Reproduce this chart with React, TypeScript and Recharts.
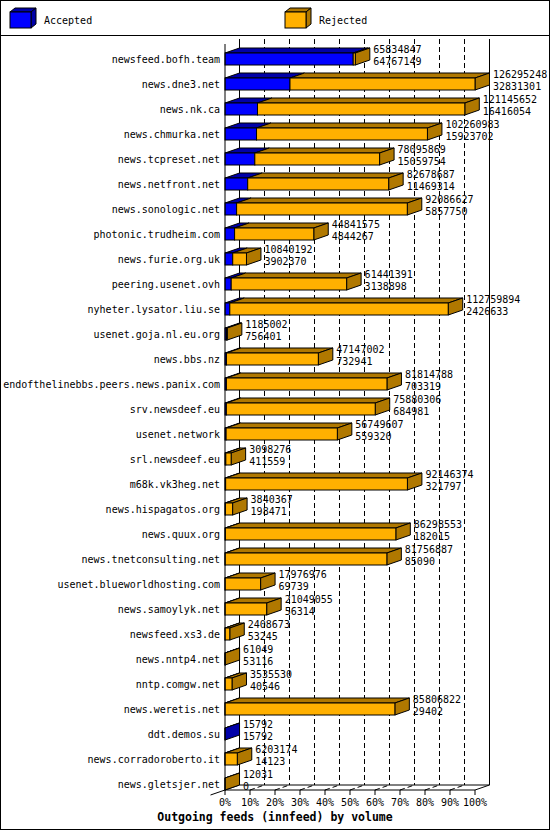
import { BarChart, Bar, XAxis, YAxis, CartesianGrid, Legend } from 'recharts';

const hosts = [
  'newsfeed.bofh.team', 'news.dne3.net', 'news.nk.ca', 'news.chmurka.net', 'news.tcpreset.net',
  'news.netfront.net', 'news.sonologic.net', 'photonic.trudheim.com', 'news.furie.org.uk',
  'peering.usenet.ovh', 'nyheter.lysator.liu.se', 'usenet.goja.nl.eu.org', 'news.bbs.nz',
  'endofthelinebbs.peers.news.panix.com', 'srv.newsdeef.eu', 'usenet.network', 'srl.newsdeef.eu',
  'm68k.vk3heg.net', 'news.hispagatos.org', 'news.quux.org', 'news.tnetconsulting.net',
  'usenet.blueworldhosting.com', 'news.samoylyk.net', 'newsfeed.xs3.de', 'news.nntp4.net',
  'nntp.comgw.net', 'news.weretis.net', 'ddt.demos.su', 'news.corradoroberto.it', 'news.gletsjer.net',
];

// upper number next to each bar (offered) and lower number (accepted)
const offered = [
  65834847, 126295248, 121145652, 102260983, 78095869, 82678687, 92086627, 44841575, 10840192,
  61441391, 112759894, 1185002, 47147002, 81814788, 75880306, 56749607, 3098276, 92146374,
  3840367, 86298553, 81756887, 17976976, 21049055, 2408673, 61049, 3535530, 85806822, 15792,
  6203174, 12031,
];
const accepted = [
  64767149, 32831301, 16416054, 15923702, 15059754, 11469314, 5857750, 4844267, 3902370,
  3138898, 2426633, 756401, 732941, 703319, 684981, 559320, 411559, 321797, 198471, 182015,
  85090, 69739, 56314, 53245, 53116, 40546, 29402, 15792, 14123, 0,
];

const percentTicks = [0, 10, 20, 30, 40, 50, 60, 70, 80, 90, 100];
const seriesNames = ['Accepted', 'Rejected'];

const FRONT = ['#0000ff', '#ffb000'];
const SHADE = ['#0000a8', '#b07800'];
const FONT = "'DejaVu Sans Mono', monospace";
const DX = 14.5;
const DY = 5;

const maxOffered = Math.max(...offered);
const data = hosts.map((host, i) => ({
  host,
  offered: offered[i],
  accepted: accepted[i],
  acceptedPct: (accepted[i] / maxOffered) * 100,
  rejectedPct: ((offered[i] - accepted[i]) / maxOffered) * 100,
}));

function Box3D({ x, y, width, height, front, shade, side }: any) {
  const fy = y + DY;
  const fh = height - DY;
  return (
    <g stroke="#000" strokeWidth={1}>
      <polygon points={`${x},${fy} ${x + DX},${y} ${x + width + DX},${y} ${x + width},${fy}`} fill={shade} />
      {side && (
        <polygon
          points={`${x + width},${fy} ${x + width + DX},${y} ${x + width + DX},${y + fh} ${x + width},${fy + fh}`}
          fill={shade}
        />
      )}
      <rect x={x} y={fy} width={width} height={fh} fill={front} />
    </g>
  );
}

function ValueLabel({ x, y, row }: any) {
  const tx = x + DX + 3.5;
  return (
    <text x={tx} y={y + 5.4} fontFamily={FONT} fontSize={10} fill="#000">
      <tspan x={tx}>{row.offered}</tspan>
      <tspan x={tx} dy={11.7}>{row.accepted}</tspan>
    </text>
  );
}

const acceptedShape = (p: any) => {
  if (!p.payload || p.payload.accepted === 0 || p.width == null) return <g />;
  const last = p.payload.rejectedPct === 0;
  return (
    <g>
      <Box3D x={p.x} y={p.y} width={p.width} height={p.height} front={FRONT[0]} shade={SHADE[0]} side={last} />
      {last && <ValueLabel x={p.x + p.width} y={p.y} row={p.payload} />}
    </g>
  );
};

const rejectedShape = (p: any) => {
  if (!p.payload || p.payload.rejectedPct === 0 || p.width == null) return <g />;
  return (
    <g>
      <Box3D x={p.x} y={p.y} width={p.width} height={p.height} front={FRONT[1]} shade={SHADE[1]} side />
      <ValueLabel x={p.x + p.width} y={p.y} row={p.payload} />
    </g>
  );
};

// back wall grid lines, shifted into depth, plus their diagonal on the floor
const backLine = (p: any) => {
  const solid = p.index === 0 || p.index === percentTicks.length - 1;
  return (
    <g key={p.key} stroke="#000" strokeWidth={1} fill="none">
      <line x1={p.x1 + DX} y1={p.y1 - DY} x2={p.x1 + DX} y2={p.y2 - DY} strokeDasharray={solid ? undefined : '5 3'} />
      {!solid && <line x1={p.x1} y1={p.y2} x2={p.x1 + DX} y2={p.y2 - DY} strokeDasharray="5 3" />}
    </g>
  );
};

// floor edges
const floorLine = (p: any) => (
  <g key={p.key} stroke="#000" strokeWidth={1} fill="none">
    <line x1={p.x1 + DX} y1={p.y1 - DY} x2={p.x2 + DX} y2={p.y1 - DY} />
    <line x1={p.x2} y1={p.y1} x2={p.x2 + DX} y2={p.y1 - DY} />
    <line x1={p.x1 - DX} y1={p.y1 + DY} x2={p.x1 + DX} y2={p.y1 - DY} />
  </g>
);

const HostTick = ({ x, y, payload }: any) => (
  <text x={x} y={y + 6.8} textAnchor="end" fontFamily={FONT} fontSize={10} fill="#000">
    {payload.value}
  </text>
);

const PercentTick = ({ x, y, payload }: any) => (
  <text x={x} y={y + 9} textAnchor="middle" fontFamily={FONT} fontSize={10} fill="#000">
    {`${payload.value}%`}
  </text>
);

const TitleLabel = (props: any) => {
  const vb = props.viewBox || { y: 790 };
  return (
    <text x={275} y={vb.y + 30.5} textAnchor="middle" fontFamily={FONT} fontSize={11.5} fontWeight="bold" fill="#000">
      Outgoing feeds (innfeed) by volume
    </text>
  );
};

const renderLegend = () => (
  <svg width={550} height={36} style={{ display: 'block' }}>
    {seriesNames.map((name, i) => {
      const bx = 10 + i * 275;
      const by = 12;
      const w = 21;
      const h = 16;
      const d = 5;
      const e = 4;
      return (
        <g key={name}>
          <g stroke="#000" strokeWidth={1}>
            <polygon points={`${bx},${by} ${bx + d},${by - e} ${bx + w + d},${by - e} ${bx + w},${by}`} fill={SHADE[i]} />
            <polygon points={`${bx + w},${by} ${bx + w + d},${by - e} ${bx + w + d},${by + h - e} ${bx + w},${by + h}`} fill={SHADE[i]} />
            <rect x={bx} y={by} width={w} height={h} fill={FRONT[i]} />
          </g>
          <text x={bx + 34} y={24.3} fontFamily={FONT} fontSize={10} fill="#000">
            {name}
          </text>
        </g>
      );
    })}
    <line x1={0} x2={550} y1={35.5} y2={35.5} stroke="#000" />
  </svg>
);

export default function App() {
  return (
    <div style={{ position: 'absolute', left: 0, top: 0, width: 550, height: 830, background: '#fff' }}>
      <BarChart
        layout="vertical"
        width={550}
        height={830}
        data={data}
        margin={{ top: 44, right: 75, bottom: 20, left: 0 }}
      >
        <CartesianGrid
          horizontalCoordinatesGenerator={(args: any) =>
            args && args.offset ? [args.offset.top + args.offset.height] : []
          }
          horizontal={floorLine}
          vertical={backLine}
        />
        <XAxis
          type="number"
          domain={[0, 100]}
          ticks={percentTicks}
          interval={0}
          height={20}
          tickSize={5}
          axisLine={{ stroke: '#000' }}
          tickLine={{ stroke: '#000' }}
          tick={PercentTick}
          label={TitleLabel}
        />
        <YAxis
          type="category"
          dataKey="host"
          width={225}
          interval={0}
          padding={{ top: 0, bottom: -4 }}
          tickSize={0}
          tickMargin={5}
          tickLine={false}
          axisLine={{ stroke: '#000' }}
          tick={HostTick}
        />
        <Legend
          layout="horizontal"
          verticalAlign="middle"
          align="center"
          wrapperStyle={{ top: 0, left: 0, width: 550, height: 36 }}
          content={renderLegend}
        />
        <Bar dataKey="acceptedPct" name="Accepted" stackId="feeds" fill={FRONT[0]} barSize={17} isAnimationActive={false} shape={acceptedShape} />
        <Bar dataKey="rejectedPct" name="Rejected" stackId="feeds" fill={FRONT[1]} barSize={17} isAnimationActive={false} shape={rejectedShape} />
      </BarChart>
      <div style={{ position: 'absolute', inset: 0, border: '1px solid #000', boxSizing: 'border-box', pointerEvents: 'none' }} />
    </div>
  );
}
